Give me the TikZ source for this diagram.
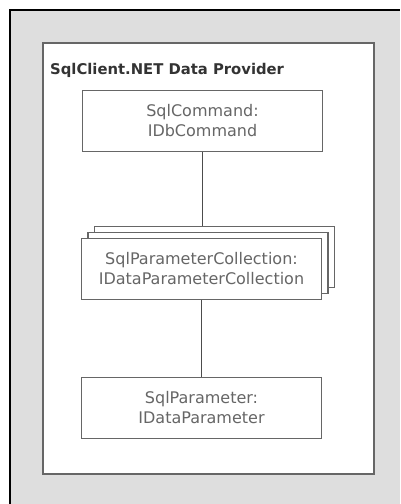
\documentclass[tikz,border=0pt]{standalone}
\usepackage{fontspec}
\setmainfont{DejaVu Sans}
\usetikzlibrary{shadows}

\tikzset{
  classbox/.style={draw=black!60, line width=1.2pt, fill=white,
    minimum width=240pt, minimum height=61pt, align=center,
    text=black!60, font=\fontsize{16}{20}\selectfont},
  link/.style={draw=black!70, line width=1.2pt},
}

\begin{document}
\begin{tikzpicture}[x=1pt,y=-1pt]
	%%%%% START %%%%%
	\useasboundingbox (0,0) rectangle (400,504);
	\fill[white] (0,0) rectangle (400,504);

	\fill[black!13] (10,10) rectangle (400,504);
	\draw[line width=2pt] (10,504) -- (10,10) -- (400,10);

	\draw[draw=black!60, line width=1.5pt, fill=white] (43,43) rectangle (374,474);
	\node[anchor=west, inner sep=0pt, font=\bfseries\fontsize{14.8}{17}\selectfont, text=black!80] (title) at (50,70) {SqlClient.NET Data Provider};

	\node[classbox] (cmd) at (202.5,121) {SqlCommand:\\IDbCommand};
	\node[classbox, double copy shadow={shadow xshift=6.5pt, shadow yshift=6pt, draw=black!60, fill=white}] (coll) at (201.5,269) {SqlParameterCollection:\\IDataParameterCollection};
	\node[classbox] (param) at (201.5,408) {SqlParameter:\\IDataParameter};

	\draw[link, shorten >=12pt] (cmd.south) -- (cmd.south |- coll.north);
	\draw[link] (coll.south) -- (param.north);
	%%%%% END %%%%%
\end{tikzpicture}
\end{document}
